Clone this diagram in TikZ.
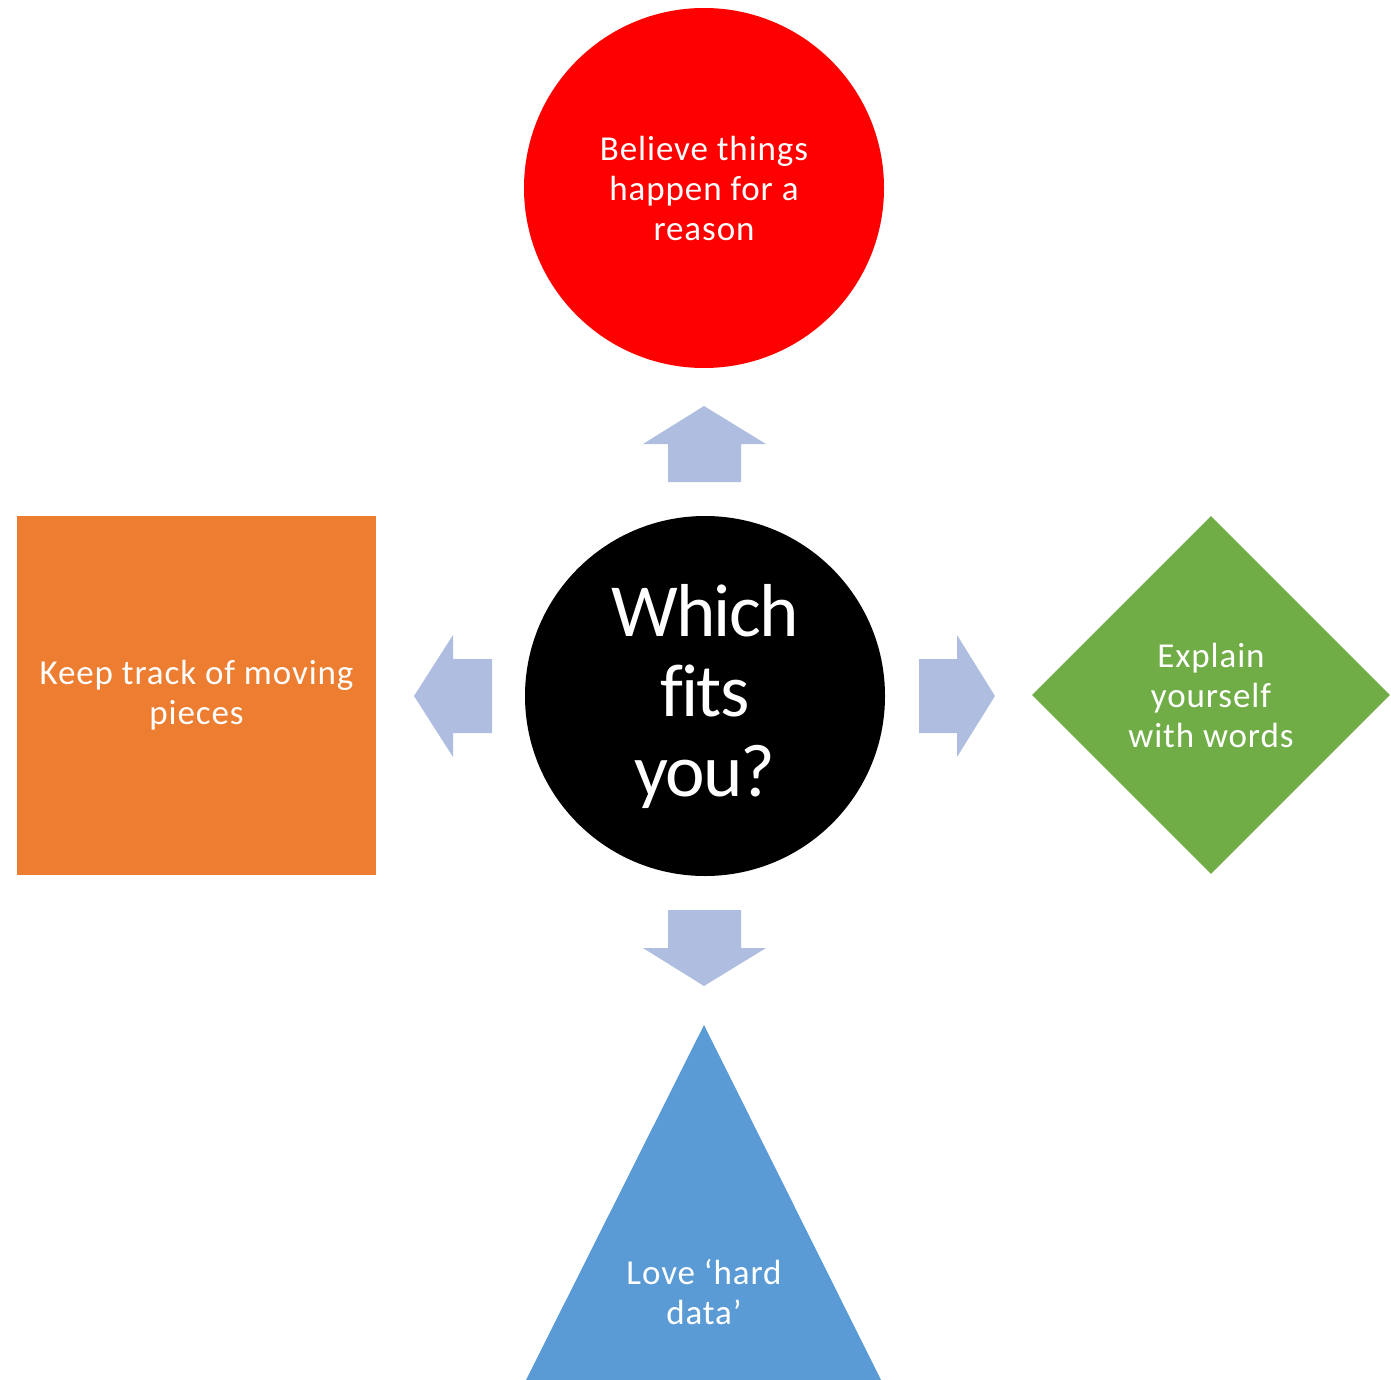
\documentclass[tikz,border=0pt]{standalone}
\usepackage{fontspec}
\setmainfont{Carlito}
\newfontfamily\smallfont[LetterSpace=2.6,Ligatures=CommonOff]{Carlito}
\newfontfamily\bigfont[LetterSpace=-2.5,Ligatures=CommonOff]{Carlito}
\usetikzlibrary{shapes.geometric}
\definecolor{cRed}{HTML}{FF0000}
\definecolor{cOrange}{HTML}{ED7D31}
\definecolor{cGreen}{HTML}{70AD47}
\definecolor{cBlue}{HTML}{5B9BD5}
\definecolor{cArrow}{HTML}{AFBDE0}
\tikzset{
  smalltxt/.style={text=white, align=center, font=\smallfont\fontsize{17.5pt}{20pt}\selectfont},
  bigtxt/.style={text=white, align=center, font=\bigfont\fontsize{37.5pt}{40pt}\selectfont},
  blockarrow/.style={fill=cArrow, draw=none},
}
\begin{document}
\begin{tikzpicture}[x=0.5pt,y=-0.5pt]
\useasboundingbox (0,0) rectangle (1391,1380);
% top red circle
\node[circle, fill=cRed, minimum size=180pt, inner sep=0pt, smalltxt] (top) at (704,188)
  {Believe things\\happen for a\\reason};
% centre black circle
\node[circle, fill=black, minimum size=180pt, inner sep=0pt, bigtxt] (centre) at (705,696)
  {Which\\fits\\you?};
% left orange square
\node[rectangle, fill=cOrange, minimum width=179.5pt, minimum height=179.5pt, inner sep=0pt, smalltxt] (left) at (196.5,695.5)
  {Keep track of moving\\pieces};
% right green diamond
\node[diamond, fill=cGreen, minimum width=179pt, minimum height=179pt, inner sep=0pt, smalltxt] (right) at (1211,695)
  {Explain\\yourself\\with words};
% bottom blue triangle
\coordinate (triA) at (704,1025);
\coordinate (triB) at (881,1380);
\coordinate (triC) at (526,1380);
\fill[cBlue] (triA) -- (triB) -- (triC) -- cycle;
\node[smalltxt] (bottom) at (704,1292) {Love ‘hard\\data’};
% block arrows
\fill[blockarrow] (704,406) -- (766,444) -- (741,444) -- (741,482) -- (668,482) -- (668,444) -- (643,444) -- cycle;
\fill[blockarrow] (704,986) -- (766,948) -- (741,948) -- (741,910) -- (668,910) -- (668,948) -- (643,948) -- cycle;
\fill[blockarrow] (414,696) -- (453,635) -- (453,659) -- (492,659) -- (492,733) -- (453,733) -- (453,757) -- cycle;
\fill[blockarrow] (995,696) -- (957,635) -- (957,659) -- (919,659) -- (919,733) -- (957,733) -- (957,757) -- cycle;
\end{tikzpicture}
\end{document}
